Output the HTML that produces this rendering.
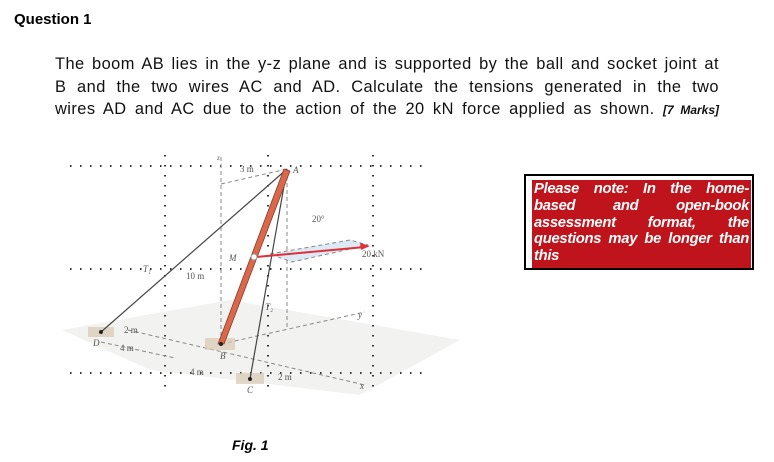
<!DOCTYPE html>
<html><head><style>
body{margin:0;width:774px;height:462px;background:#fff;position:relative;font-family:"Liberation Sans",sans-serif;overflow:hidden}
.t{position:absolute;left:14px;top:11px;font-weight:bold;font-size:15px}
.p{position:absolute;left:55px;top:53px;width:664px;font-size:16.4px;line-height:22.5px;color:#111;letter-spacing:0.45px}
.p div{text-align:justify;text-align-last:justify;white-space:nowrap}
.p div.l{text-align-last:left}
.box{position:absolute;left:524px;top:174px;width:230px;height:96px;border:2px solid #000;box-sizing:border-box}
.red{position:absolute;left:532px;top:180px;width:219px;height:88px;background:#c0141c;color:#fff;font-weight:bold;font-style:italic;font-size:14.8px;line-height:16.8px;padding:1px 2px;box-sizing:border-box;letter-spacing:-0.3px}
.red div{text-align:justify;text-align-last:justify;white-space:nowrap}
.red div.l{text-align-last:left}
.fig{position:absolute;left:232px;top:437px;font-weight:bold;font-style:italic;font-size:14px}
</style></head><body>
<div class="t">Question 1</div>
<div class="p"><div>The boom AB lies in the y-z plane and is supported by the ball and socket joint at</div><div>B and the two wires AC and AD. Calculate the tensions generated in the two</div><div>wires AD and AC due to the action of the 20 kN force applied as shown. <i style="font-size:12px;font-weight:bold;letter-spacing:0">[7 Marks]</i></div></div>
<div class="box"></div>
<div class="red"><div>Please note: In the home-</div><div>based and open-book</div><div>assessment format, the</div><div>questions may be longer than</div><div class="l">this</div></div>
<svg style="position:absolute;left:0;top:0" width="774" height="462">
<polygon points="62,330 230,300 460,340 360,395 150,370" fill="#f2f2f0"/>
<g stroke="#333" stroke-width="2" stroke-dasharray="1.5 8.5">
<line x1="70" y1="166" x2="430" y2="166"/><line x1="70" y1="269" x2="430" y2="269"/><line x1="70" y1="373" x2="430" y2="373"/>
<line x1="165" y1="155" x2="165" y2="395"/><line x1="268" y1="155" x2="268" y2="395"/><line x1="373" y1="155" x2="373" y2="395"/>
</g>
<g stroke="#888" stroke-width="1" stroke-dasharray="4 3" fill="none">
<line x1="221" y1="157" x2="221" y2="344"/><line x1="287" y1="169" x2="287" y2="328"/>
<line x1="221" y1="184" x2="287" y2="169"/>
<line x1="221" y1="344" x2="365" y2="312"/>
<line x1="128" y1="330" x2="365" y2="385"/>
<line x1="101" y1="342" x2="175" y2="358"/>
<polygon points="270,254 350,240 368,245 292,262" fill="#dde9f5"/>
</g>
<rect x="205" y="338" width="30" height="12" fill="#d8c8b0" opacity=".7"/>
<rect x="88" y="327" width="26" height="10" fill="#d8c8b0" opacity=".7"/>
<rect x="236" y="373" width="28" height="11" fill="#d8c8b0" opacity=".7"/>
<line x1="101" y1="332" x2="287" y2="169" stroke="#444" stroke-width="1.2"/>
<line x1="250" y1="379" x2="287" y2="169" stroke="#444" stroke-width="1.2"/>
<polygon points="218,344 224,344 290,171 284,169" fill="#d9694a" stroke="#8a3a2a" stroke-width=".8"/>
<line x1="256" y1="257" x2="365" y2="247" stroke="#e0303a" stroke-width="2"/>
<polygon points="370,246 360,243 361,250" fill="#e0303a"/>
<circle cx="254" cy="257" r="3" fill="#fff" stroke="#999"/>
<circle cx="101" cy="332" r="2" fill="#222"/><circle cx="221" cy="344" r="2" fill="#222"/><circle cx="250" cy="379" r="2" fill="#222"/>
<g font-family="Liberation Serif,serif" font-size="9" fill="#555">
<text x="240" y="172">3 m</text><text x="293" y="173" font-style="italic">A</text><text x="217" y="160" font-style="italic" font-size="7">z</text>
<text x="312" y="222">20°</text><text x="362" y="257">20 kN</text><text x="229" y="261" font-style="italic">M</text>
<text x="143" y="272" font-style="italic">T₁</text><text x="186" y="279">10 m</text><text x="265" y="310" font-style="italic">T₂</text>
<text x="124" y="333">2 m</text><text x="120" y="351">4 m</text><text x="93" y="346" font-style="italic">D</text>
<text x="220" y="359" font-style="italic">B</text><text x="190" y="375">4 m</text><text x="278" y="380">2 m</text>
<text x="247" y="393" font-style="italic">C</text><text x="358" y="318" font-style="italic">y</text><text x="360" y="389" font-style="italic">x</text>
</g>
</svg>
<div class="fig">Fig. 1</div>
</body></html>
